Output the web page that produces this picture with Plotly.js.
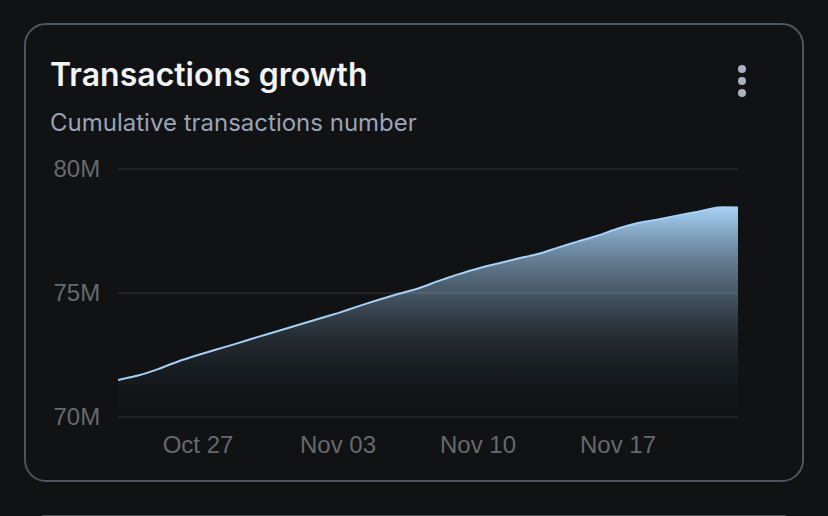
<!DOCTYPE html>
<html><head><meta charset="utf-8">
<script src="https://cdn.plot.ly/plotly-3.0.1.min.js"></script>
<style>
html,body{margin:0;padding:0;background:#101214;width:828px;height:516px;overflow:hidden}
#card{position:absolute;left:24px;top:23px;width:780px;height:459px;border:2px solid #4f5563;border-radius:22px;box-sizing:border-box}
#next{position:absolute;left:42px;top:514.5px;width:744px;height:2px;background:#4a4f5c}
#chart{position:absolute;left:0;top:0;width:828px;height:516px}
.dot{position:absolute;left:738px;width:8px;height:8px;border-radius:50%;background:#a9b2c3}
</style></head><body>
<div id="card"></div><div id="next"></div>
<div id="chart"></div>
<div class="dot" style="top:64.5px"></div><div class="dot" style="top:77px"></div><div class="dot" style="top:89px"></div>
<script>
const dates = ["2024-10-23","2024-10-24","2024-10-25","2024-10-26","2024-10-27","2024-10-28","2024-10-29","2024-10-30","2024-10-31","2024-11-01","2024-11-02","2024-11-03","2024-11-04","2024-11-05","2024-11-06","2024-11-07","2024-11-08","2024-11-09","2024-11-10","2024-11-11","2024-11-12","2024-11-13","2024-11-14","2024-11-15","2024-11-16","2024-11-17","2024-11-18","2024-11-19","2024-11-20","2024-11-21","2024-11-22","2024-11-23"];
const transactions = [71.49,71.67,71.93,72.24,72.50,72.74,72.98,73.23,73.47,73.71,73.95,74.19,74.46,74.72,74.96,75.18,75.48,75.75,75.99,76.19,76.39,76.57,76.83,77.08,77.32,77.60,77.82,77.96,78.13,78.28,78.45,78.45];
const yTicks = [70,75,80];
const yLabels = ["70M","75M","80M"];
const titleText = "Transactions growth";
const subtitleText = "Cumulative transactions number";

const tickFont = {family:"Liberation Sans, Arial, sans-serif",size:24,color:"#666a6e"};
Plotly.newPlot("chart",[{
  x:dates,y:transactions,type:"scatter",mode:"lines",
  line:{color:"#a6d0f5",width:2,shape:"spline",smoothing:0.4},
  fill:"tozeroy",
  fillgradient:{type:"vertical",start:70,stop:78.45,
    colorscale:[[0,"rgba(166,208,245,0)"],[0.118,"rgba(166,208,245,0.02)"],[0.236,"rgba(166,208,245,0.06)"],[0.354,"rgba(166,208,245,0.12)"],[0.472,"rgba(166,208,245,0.22)"],[0.59,"rgba(166,208,245,0.36)"],[0.708,"rgba(166,208,245,0.5)"],[0.827,"rgba(166,208,245,0.68)"],[1,"rgba(166,208,245,1)"]]},
  hoverinfo:"skip"
}],{
  width:828,height:516,
  paper_bgcolor:"rgba(0,0,0,0)",plot_bgcolor:"rgba(0,0,0,0)",
  margin:{l:118,r:90,t:167,b:97},
  showlegend:false,
  title:{text:titleText,x:50/828,xanchor:"left",y:1-74.5/516,yanchor:"middle",
    font:{family:"Inter",size:32,weight:600,color:"#f2f3f5"}},
  annotations:[{text:subtitleText,xref:"paper",yref:"paper",showarrow:false,
    xanchor:"left",yanchor:"middle",x:-70/620,y:1+45/252,
    font:{family:"Inter",size:24,color:"#99a3b8"}}],
  xaxis:{type:"date",range:["2024-10-23","2024-11-23"],tick0:"2024-10-27",dtick:7*86400000,
    tickformat:"%b %d",showgrid:false,zeroline:false,showline:false,
    ticks:"outside",ticklen:4,tickcolor:"rgba(0,0,0,0)",tickfont:tickFont},
  yaxis:{range:[69.92,80.08],tickmode:"array",tickvals:yTicks,ticktext:yLabels,
    gridcolor:"#212427",gridwidth:1.3,zeroline:false,showline:false,
    ticks:"outside",ticklen:12,tickcolor:"rgba(0,0,0,0)",tickfont:tickFont}
},{staticPlot:true,displayModeBar:false});
</script></body></html>
